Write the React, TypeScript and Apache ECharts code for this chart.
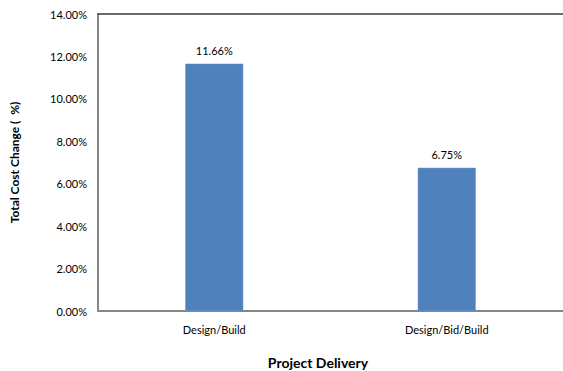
import React, { useEffect, useRef } from "react";
import * as echarts from "echarts";

const categories = ["Design/Build", "Design/Bid/Build"];
const values = [11.66, 6.75];
const yTicks = { min: 0, max: 14, interval: 2 };
const yTitle = "Total Cost Change (  %)";
const xTitle = "Project Delivery";

const FONT = "Lato, 'Liberation Sans', sans-serif";

export default function App() {
  const ref = useRef<HTMLDivElement>(null);
  useEffect(() => {
    if (!ref.current) return;
    const chart = echarts.init(ref.current, null, { renderer: "svg" });
    chart.setOption({
      animation: false,
      backgroundColor: "#ffffff",
      grid: { left: 97, top: 14, width: 470, height: 297 },
      xAxis: [
        {
          type: "category",
          data: categories,
          axisLine: { lineStyle: { color: "#868686", width: 2 } },
          axisTick: { show: false },
          axisLabel: { color: "#000", fontSize: 11, fontFamily: FONT, margin: 13 },
        },
        {
          type: "category",
          position: "top",
          data: categories,
          axisLine: { lineStyle: { color: "#3a3a3a", width: 1.5 } },
          axisTick: { show: false },
          axisLabel: { show: false },
        },
      ],
      yAxis: {
        type: "value",
        min: yTicks.min,
        max: yTicks.max,
        interval: yTicks.interval,
        name: yTitle,
        nameLocation: "middle",
        nameGap: 78,
        nameTextStyle: { color: "#000", fontSize: 12, fontWeight: "bold", fontFamily: FONT },
        axisLine: { show: true, lineStyle: { color: "#868686", width: 2 } },
        axisTick: { show: false },
        splitLine: { show: false },
        axisLabel: {
          color: "#000",
          fontSize: 11,
          fontFamily: FONT,
          margin: 11,
          formatter: (v: number) => v.toFixed(2) + "%",
        },
      },
      series: [
        {
          type: "bar",
          data: values,
          barWidth: 58,
          itemStyle: { color: "#4F81BD", borderColor: "#6E9BD0", borderWidth: 0.5 },
          label: {
            show: true,
            position: "top",
            distance: 8,
            color: "#000",
            fontSize: 11,
            fontFamily: FONT,
            formatter: (p: any) => p.value.toFixed(2) + "%",
          },
        },
      ],
      graphic: [
        {
          type: "text",
          x: 318,
          y: 362,
          style: {
            text: xTitle,
            fontSize: 14,
            fontWeight: "bold",
            fontFamily: FONT,
            fill: "#000",
            align: "center",
            verticalAlign: "middle",
          },
        },
      ],
    });
    return () => chart.dispose();
  }, []);
  return (
    <div
      ref={ref}
      style={{ width: 563, height: 371, position: "absolute", left: 0, top: 0 }}
    />
  );
}
